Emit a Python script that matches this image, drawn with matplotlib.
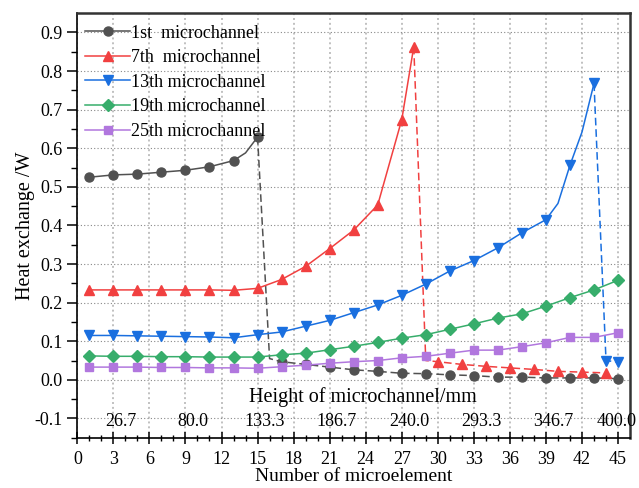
import numpy as np
import matplotlib
matplotlib.use("Agg")
import matplotlib.pyplot as plt

plt.rcParams['font.family'] = ['Liberation Serif', 'DejaVu Serif']

# heat exchange per microelement, one list per microchannel
x_1st = [1, 3, 5, 7, 9, 11, 13, 14, 15, 16, 17, 19, 21, 23, 25, 27, 29, 31, 33, 35, 37, 39, 41, 43, 45]
y_1st = [0.525, 0.531, 0.533, 0.538, 0.543, 0.552, 0.568, 0.588, 0.629, 0.055, 0.047, 0.040, 0.033,
         0.026, 0.022, 0.017, 0.016, 0.013, 0.011, 0.007, 0.007, 0.005, 0.005, 0.005, 0.003]
x_7th = [1, 3, 5, 7, 9, 11, 13, 15, 17, 19, 21, 23, 25, 27, 28, 29, 30, 32, 34, 36, 38, 40, 42, 44]
y_7th = [0.233, 0.233, 0.233, 0.233, 0.233, 0.233, 0.232, 0.237, 0.260, 0.294, 0.340, 0.388, 0.453,
         0.674, 0.863, 0.050, 0.047, 0.040, 0.035, 0.031, 0.027, 0.022, 0.020, 0.018]
x_13th = [1, 3, 5, 7, 9, 11, 13, 15, 17, 19, 21, 23, 25, 27, 29, 31, 33, 35, 37, 39, 40, 41, 42, 43, 44, 45]
y_13th = [0.115, 0.115, 0.114, 0.113, 0.112, 0.111, 0.109, 0.117, 0.124, 0.139, 0.154, 0.174, 0.194,
          0.219, 0.248, 0.282, 0.309, 0.342, 0.381, 0.415, 0.457, 0.556, 0.642, 0.768, 0.050, 0.046]
x_19th = list(range(1, 46, 2))
y_19th = [0.062, 0.061, 0.061, 0.060, 0.060, 0.059, 0.059, 0.059, 0.065, 0.069, 0.078, 0.087,
          0.097, 0.108, 0.117, 0.131, 0.145, 0.160, 0.171, 0.191, 0.213, 0.233, 0.258]
x_25th = list(range(1, 46, 2))
y_25th = [0.033, 0.033, 0.033, 0.032, 0.032, 0.031, 0.031, 0.030, 0.034, 0.038, 0.043, 0.047,
          0.050, 0.057, 0.061, 0.069, 0.077, 0.077, 0.086, 0.096, 0.110, 0.110, 0.122]

# secondary scale: channel height for the element numbers
height_mm = [26.7, 80.0, 133.3, 186.7, 240.0, 293.3, 346.7, 400.0]

series = [
    # x, y, peak x (solid up to it, dashed after), x without marker, colour, marker, size, label
    (x_1st, y_1st, 15, [14, 16], '#515151', 'o', 6.5, '1st  microchannel'),
    (x_7th, y_7th, 28, [29], '#F14040', '^', 7.5, '7th  microchannel'),
    (x_13th, y_13th, 43, [40, 42], '#1A6FDF', 'v', 7.5, '13th microchannel'),
    (x_19th, y_19th, 45, [], '#37AD6B', 'D', 6.0, '19th microchannel'),
    (x_25th, y_25th, 45, [], '#B177DE', 's', 6.0, '25th microchannel'),
]

fig = plt.figure(figsize=(6.39, 4.88), dpi=100)
ax = fig.add_axes([0.121, 0.103, 0.865, 0.870])

for xs, ys, peak, nomark, col, mk, ms, lab in series:
    xs = np.array(xs)
    ys = np.array(ys)
    k = int(np.where(xs == peak)[0][0])
    marks = [i for i, v in enumerate(xs) if v not in nomark]
    ax.plot(xs[:k + 1], ys[:k + 1], color=col, lw=1.1, marker=mk, ms=ms,
            markevery=[i for i in marks if i <= k], label=lab, zorder=3)
    if k < len(xs) - 1:
        ax.plot(xs[k:], ys[k:], color=col, lw=1.1, ls=(0, (5, 2.5)), marker=mk, ms=ms,
                markevery=[i - k for i in marks if i > k], zorder=3)

ax.set_xlim(0, 46)
ax.set_ylim(-0.15, 0.95)
ax.set_xticks(np.arange(0, 46, 3))
ax.set_xticks(np.arange(0, 46, 1), minor=True)
yt = np.round(np.arange(-0.1, 0.91, 0.1), 1)
ax.set_yticks(yt)
ax.set_yticks(np.arange(-0.15, 0.95, 0.05), minor=True)
ax.set_yticklabels(['%.1f' % v for v in yt])

ax.tick_params(axis='x', which='major', direction='inout', length=9, width=1.1, labelsize=13, pad=5)
ax.tick_params(axis='x', which='minor', direction='inout', length=5, width=1.0)
ax.tick_params(axis='y', which='major', direction='out', length=7, width=1.1, labelsize=13)
ax.tick_params(axis='y', which='minor', direction='out', length=4, width=1.0)

ax.grid(True, axis='y', which='major', ls=(0, (1, 2)), color='#888888', lw=0.8)
ax.grid(True, axis='x', which='major', ls=(0, (1, 1.5)), color='#c0c0c0', lw=1.4)
ax.set_axisbelow(True)

for s in ('left', 'bottom'):
    ax.spines[s].set_linewidth(1.2)
    ax.spines[s].set_color('black')
for s in ('top', 'right'):
    ax.spines[s].set_linewidth(1.8)
    ax.spines[s].set_color('#333333')

ax.set_xlabel('Number of microelement', fontsize=14, labelpad=0)
ax.set_ylabel('Heat exchange /W', fontsize=14.5)
ax.yaxis.set_label_coords(-0.077, 0.5)

# channel height labels placed inside the frame
ax.text(23.8, -0.045, 'Height of microchannel/mm', fontsize=14.5, ha='center', va='center')
for h in height_mm:
    ax.text(min(h * 45 / 400 + 0.6, 44.9), -0.108, '%.1f' % h, fontsize=13, ha='center', va='center')

ax.legend(loc='upper left', bbox_to_anchor=(0.014, 0.973), frameon=False, fontsize=13,
          handlelength=2.5, handletextpad=0.05, labelspacing=0.42, borderpad=0, borderaxespad=0)

fig.savefig('out.png', dpi=100)
